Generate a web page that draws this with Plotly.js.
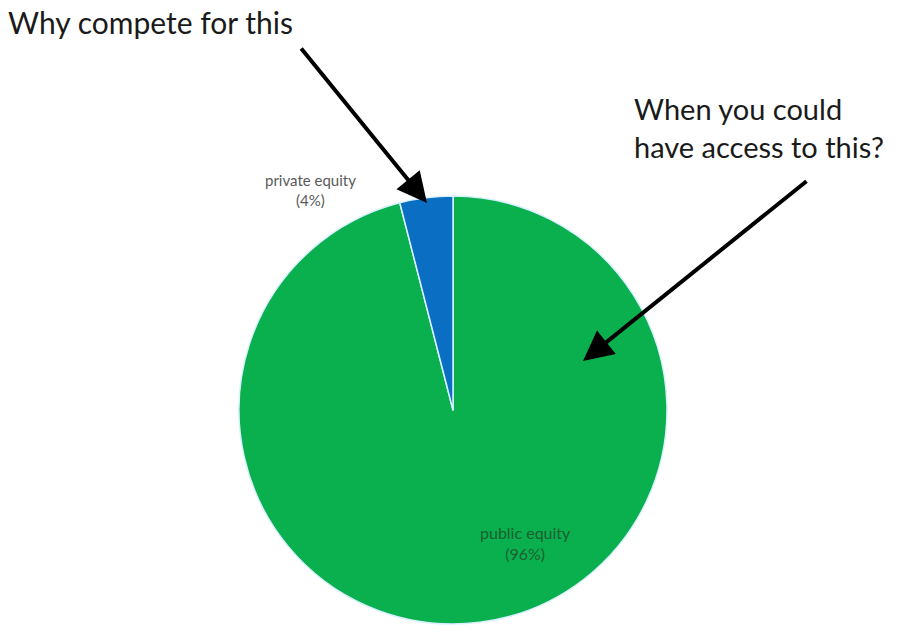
<!DOCTYPE html>
<html>
<head>
<meta charset="utf-8">
<script src="https://cdn.plot.ly/plotly-3.0.1.min.js"></script>
<style>html,body{margin:0;padding:0;background:#fff;}#chart{width:903px;height:634px;}</style>
</head>
<body>
<div id="chart"></div>
<script>
const labels = ["public equity", "private equity"];
const values = [96, 4];
const sliceColors = ["#0AB04E", "#0A6EC2"];
const callouts = ["Why compete for this", "When you could<br>have access to this?"];

const W = 903, H = 634;
const cx = 453, cy = 410, r = 214;

const trace = {
  type: "pie",
  labels: labels,
  values: values,
  sort: false,
  direction: "clockwise",
  rotation: 0,
  textinfo: "none",
  hoverinfo: "label+percent",
  marker: { colors: sliceColors, line: { color: "#d8f0ff", width: 1.5 } },
  domain: { x: [(cx - r) / W, (cx + r) / W], y: [1 - (cy + r) / H, 1 - (cy - r) / H] },
  showlegend: false
};

const total = values.reduce((a, b) => a + b, 0);
const pct = values.map(v => Math.round(v / total * 100) + "%");
const fam = "Lato, 'Open Sans', sans-serif";

const annotations = [
  { xref: "paper", yref: "paper", x: 310 / W, y: 1 - 190 / H, xanchor: "center", yanchor: "middle",
    text: labels[1] + "<br>(" + pct[1] + ")",
    showarrow: false, font: { family: fam, size: 15, color: "#5a5a5a" }, align: "center" },
  { xref: "paper", yref: "paper", x: 525 / W, y: 1 - 543 / H, xanchor: "center", yanchor: "middle",
    text: labels[0] + "<br>(" + pct[0] + ")",
    showarrow: false, font: { family: fam, size: 16, color: "#1c5f2e" }, align: "center" },
  { xref: "paper", yref: "paper", x: 6 / W, y: 1 - 22 / H, xanchor: "left", yanchor: "middle", text: callouts[0],
    showarrow: false, font: { family: fam, size: 30, color: "#1a1a1a" } },
  { xref: "paper", yref: "paper", x: 632 / W, y: 1 - 128 / H, xanchor: "left", yanchor: "middle", text: callouts[1],
    showarrow: false, align: "left", font: { family: fam, size: 29, color: "#1a1a1a" } },
  { xref: "paper", yref: "paper", x: 427 / W, y: 1 - 203 / H, text: "", showarrow: true,
    ax: 300 - 427, ay: 47 - 203, arrowhead: 2, arrowsize: 1.5, arrowwidth: 4, arrowcolor: "#000" },
  { xref: "paper", yref: "paper", x: 583 / W, y: 1 - 361 / H, text: "", showarrow: true,
    ax: 808 - 583, ay: 180 - 361, arrowhead: 2, arrowsize: 1.5, arrowwidth: 4, arrowcolor: "#000" }
];

const layout = {
  width: W, height: H,
  margin: { l: 0, r: 0, t: 0, b: 0 },
  paper_bgcolor: "#fff",
  plot_bgcolor: "#fff",
  annotations: annotations
};

Plotly.newPlot("chart", [trace], layout, { displayModeBar: false, staticPlot: true });
</script>
</body>
</html>
